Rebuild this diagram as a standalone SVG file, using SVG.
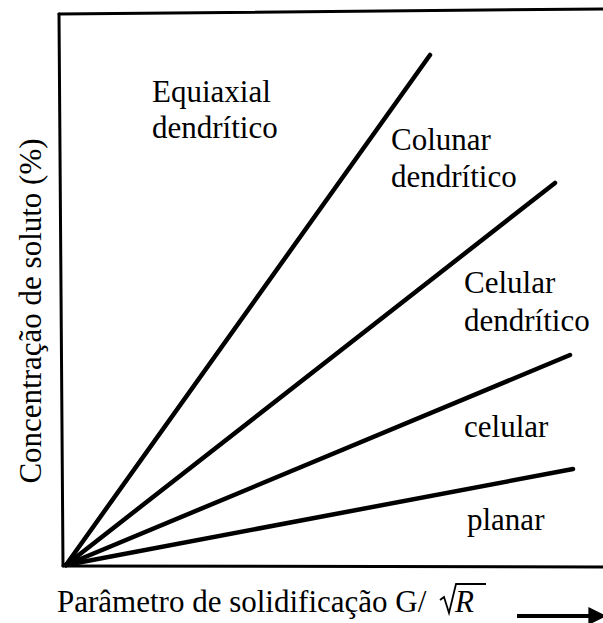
<svg xmlns="http://www.w3.org/2000/svg" width="603" height="623" viewBox="0 0 603 623">
  <defs>
    <marker id="arrowhead" viewBox="0 0 10 10" refX="2" refY="5" markerWidth="4.5" markerHeight="4.5" orient="auto">
      <path d="M0,0 L10,5 L0,10 z" fill="#000"/>
    </marker>
  </defs>
  <rect x="0" y="0" width="603" height="623" fill="#fff"/>
  <g id="frame" stroke="#000" stroke-width="3" fill="none" stroke-linecap="round">
    <line x1="59" y1="14" x2="603" y2="9"/>
    <line x1="59" y1="14" x2="63" y2="566"/>
    <line x1="63" y1="566" x2="603" y2="567"/>
  </g>
  <g id="connectors" stroke="#000" stroke-width="4.5" fill="none" stroke-linecap="round">
    <line x1="66" y1="565" x2="430" y2="55"/>
    <line x1="66" y1="565" x2="555" y2="183"/>
    <line x1="66" y1="565" x2="570" y2="355"/>
    <line x1="66" y1="565" x2="573" y2="469"/>
  </g>
  <g id="equiaxial">
    <text x="152" y="102" font-family="Liberation Serif" font-size="31">Equiaxial</text>
    <text x="152" y="138" font-family="Liberation Serif" font-size="31">dendr&#237;tico</text>
  </g>
  <g id="colunar">
    <text x="391" y="150" font-family="Liberation Serif" font-size="31">Colunar</text>
    <text x="391" y="187" font-family="Liberation Serif" font-size="31">dendr&#237;tico</text>
  </g>
  <g id="celular-dendritico">
    <text x="464" y="293" font-family="Liberation Serif" font-size="31">Celular</text>
    <text x="464" y="331" font-family="Liberation Serif" font-size="31">dendr&#237;tico</text>
  </g>
  <g id="celular">
    <text x="464" y="437" font-family="Liberation Serif" font-size="31">celular</text>
  </g>
  <g id="planar">
    <text x="467" y="530" font-family="Liberation Serif" font-size="31">planar</text>
  </g>
  <g id="y-axis-label">
    <text x="0" y="0" text-anchor="middle" transform="translate(41,311) rotate(-90)" font-family="Liberation Serif" font-size="31">Concentra&#231;&#227;o de soluto (%)</text>
  </g>
  <g id="x-axis-label">
    <text x="57" y="612" font-family="Liberation Serif" font-size="31">Par&#226;metro de solidifica&#231;&#227;o G/</text>
    <polyline points="440,600 444,597 449,613 456,584 486,584" fill="none" stroke="#000" stroke-width="1.8"/>
    <text x="455" y="612" font-family="Liberation Serif" font-size="31" font-style="italic">R</text>
  </g>
  <g id="arrow">
    <line x1="517" y1="616" x2="592" y2="616" stroke="#000" stroke-width="4" marker-end="url(#arrowhead)"/>
  </g>
</svg>
